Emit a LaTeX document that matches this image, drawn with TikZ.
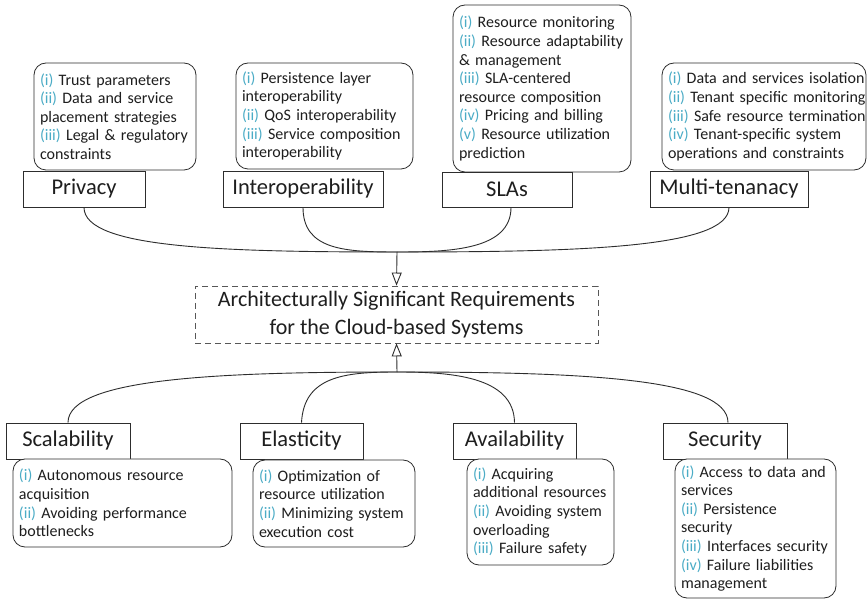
\documentclass[tikz,border=0pt]{standalone}
\usepackage{fontspec}
\setmainfont{Carlito}
\usetikzlibrary{arrows.meta}
\definecolor{numc}{RGB}{75,172,198}
\definecolor{txtc}{RGB}{30,30,30}
\definecolor{linec}{RGB}{45,45,45}
\newcommand\nm[1]{\textcolor{numc}{(#1)}}
\begin{document}
\begin{tikzpicture}[x=1pt,y=-1pt,
  lbl/.style={draw=linec,line width=0.8pt,fill=white,inner sep=0pt,text=txtc,
    font=\fontsize{22.5}{26}\selectfont},
  itembox/.style={draw=linec,line width=0.8pt,rounded corners=12pt,fill=white,
    inner xsep=6pt,inner ysep=0pt,align=left,text=txtc,
    font=\fontsize{16}{18.6}\selectfont},
  conn/.style={draw=linec,line width=0.9pt},
  arr/.style={conn,-{Triangle[open,length=13pt,width=10pt]}}]
\useasboundingbox[fill=white] (0,0) rectangle (868,601);

% top item boxes
\node[itembox,text width=150pt,minimum height=107pt] (privb) at (115,116.5)
 {\mbox{\nm{i} Trust parameters}\\\mbox{\nm{ii} Data and service}\\\mbox{placement strategies}\\\mbox{\nm{iii} Legal \& regulatory}\\\mbox{constraints}};
\node[itembox,text width=165pt,minimum height=106pt] (intb) at (324.5,116)
 {\mbox{\nm{i} Persistence layer}\\\mbox{interoperability}\\\mbox{\nm{ii} QoS interoperability}\\\mbox{\nm{iii} Service composition}\\\mbox{interoperability}};
\node[itembox,text width=166pt,minimum height=167pt] (slab) at (542,88.5)
 {\mbox{\nm{i} Resource monitoring}\\\mbox{\nm{ii} Resource adaptability}\\\mbox{\& management}\\\mbox{\nm{iii} SLA-centered}\\\mbox{resource composition}\\\mbox{\nm{iv} Pricing and billing}\\\mbox{\nm{v} Resource utilization}\\\mbox{prediction}};
\node[itembox,text width=192pt,minimum height=107pt] (multb) at (764,116.5)
 {\mbox{\nm{i} Data and services isolation}\\\mbox{\nm{ii} Tenant specific monitoring}\\\mbox{\nm{iii} Safe resource termination}\\\mbox{\nm{iv} Tenant-specific system}\\\mbox{operations and constraints}};

% top labels
\node[lbl,minimum width=122pt,minimum height=36pt] (priv) at (84,189) {Privacy};
\node[lbl,minimum width=160pt,minimum height=36pt] (intr) at (303,189) {Interoperability};
\node[lbl,minimum width=130pt,minimum height=35pt] (sla) at (507,189.5) {SLAs};
\node[lbl,minimum width=158pt,minimum height=36pt] (mult) at (729,189) {Multi-tenanacy};

% central box
\node[draw=linec!80,line width=0.8pt,dash pattern=on 6pt off 4pt,minimum width=403pt,minimum height=57pt,
  align=center,text=txtc,font=\fontsize{22}{28}\selectfont] (asr) at (396.5,314.5)
  {Architecturally Significant Requirements\\for the Cloud-based Systems};

% bottom labels
\node[lbl,minimum width=124pt,minimum height=36pt] (scal) at (68,441) {Scalability};
\node[lbl,minimum width=123pt,minimum height=36pt] (elas) at (301.5,441) {Elasticity};
\node[lbl,minimum width=123pt,minimum height=36pt] (avail) at (514.5,441) {Availability};
\node[lbl,minimum width=124pt,minimum height=36pt] (secu) at (725,441) {Security};

% bottom item boxes
\node[itembox,text width=207pt,minimum height=88pt] (scalb) at (122.5,503)
 {\mbox{\nm{i} Autonomous resource}\\\mbox{acquisition}\\\mbox{\nm{ii} Avoiding performance}\\\mbox{bottlenecks}};
\node[itembox,text width=150pt,minimum height=87pt] (elasb) at (334,503.5)
 {\mbox{\nm{i} Optimization of}\\\mbox{resource utilization}\\\mbox{\nm{ii} Minimizing system}\\\mbox{execution cost}};
\node[itembox,text width=135pt,minimum height=106pt] (availb) at (540.5,512)
 {\mbox{\nm{i} Acquiring}\\\mbox{additional resources}\\\mbox{\nm{ii} Avoiding system}\\\mbox{overloading}\\\mbox{\nm{iii} Failure safety}};
\node[itembox,text width=149pt,minimum height=139pt] (secub) at (755.5,528.5)
 {\mbox{\nm{i} Access to data and}\\\mbox{services}\\\mbox{\nm{ii} Persistence}\\\mbox{security}\\\mbox{\nm{iii} Interfaces security}\\\mbox{\nm{iv} Failure liabilities}\\\mbox{management}};

% junctions
\coordinate (topj) at (397,252);
\coordinate (botj) at (397,372);

% top connectors
\draw[conn] (priv.south) .. controls (84,248) and (220,252) .. (topj);
\draw[conn] (intr.south) .. controls (303,250) and (345,252) .. (topj);
\draw[conn] ([xshift=4pt]sla.south) .. controls (511,250) and (450,252) .. (topj);
\draw[conn] (mult.south) .. controls (729,248) and (580,252) .. (topj);
\draw[arr] (topj) -- (asr.north);

% bottom connectors
\draw[conn] (scal.north) .. controls (68,378) and (220,372) .. (botj);
\draw[conn] (elas.north) .. controls (304,376) and (345,372) .. (botj);
\draw[conn] (avail.north) .. controls (514,376) and (450,372) .. (botj);
\draw[conn] ([xshift=3pt]secu.north) .. controls (728,378) and (580,372) .. (botj);
\draw[arr] (botj) -- (asr.south);
\end{tikzpicture}
\end{document}
